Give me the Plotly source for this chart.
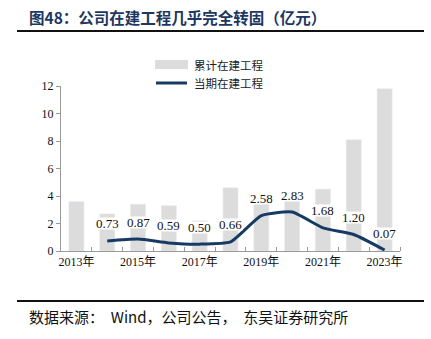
import plotly.graph_objects as go

# 累计在建工程 (bars) and 当期在建工程 (line), unit: 亿元
years = [2013, 2014, 2015, 2016, 2017, 2018, 2019, 2020, 2021, 2022, 2023]
cumulative = [3.6, 2.7, 3.4, 3.3, 2.2, 4.6, 4.0, 4.2, 4.5, 8.1, 11.8]
line_years = [2014, 2015, 2016, 2017, 2018, 2019, 2020, 2021, 2022, 2023]
current = [0.73, 0.87, 0.59, 0.50, 0.66, 2.58, 2.83, 1.68, 1.20, 0.07]
tick_years = [2013, 2015, 2017, 2019, 2021, 2023]
tick_text = [f"{y}年" for y in tick_years]
y_ticks = [0, 2, 4, 6, 8, 10, 12]

BAR = "#dcdcdc"
NAVY = "#173a63"
SERIF = "Liberation Serif, Noto Sans CJK SC"
CJK = "Noto Sans CJK SC, Liberation Serif"

fig = go.Figure()
fig.add_trace(go.Bar(x=years, y=cumulative, marker_color=BAR, width=0.49,
                     name="累计在建工程", showlegend=False))
fig.add_trace(go.Scatter(x=line_years, y=current, mode="lines",
                         line=dict(color=NAVY, width=3, shape="spline", smoothing=0.5),
                         name="当期在建工程", showlegend=False))

# value labels above the line points, on a tight white box
for x, v in zip(line_years, current):
    fig.add_annotation(x=x, y=v, text=f"{v:.2f}", showarrow=False, yshift=17,
                       font=dict(family=SERIF, size=13, color="#111"),
                       bgcolor="white", borderpad=0, height=11)

# legend drawn at the top
fig.add_shape(type="rect", xref="paper", yref="paper", x0=(155 - 61) / 339, x1=(188 - 61) / 339,
              y0=(251 - 69) / 165, y1=(251 - 60) / 165, fillcolor=BAR, line_width=0)
fig.add_shape(type="line", xref="paper", yref="paper", x0=(156 - 61) / 339, x1=(187 - 61) / 339,
              y0=(251 - 83) / 165, y1=(251 - 83) / 165, line=dict(color=NAVY, width=3))
fig.add_annotation(xref="paper", yref="paper", x=(192 - 61) / 339, y=(251 - 65) / 165,
                   text="累计在建工程", showarrow=False, xanchor="left", yanchor="middle",
                   font=dict(family=CJK, size=11.5, color="#222"))
fig.add_annotation(xref="paper", yref="paper", x=(192 - 61) / 339, y=(251 - 83) / 165,
                   text="当期在建工程", showarrow=False, xanchor="left", yanchor="middle",
                   font=dict(family=CJK, size=11.5, color="#222"))

# title, rules and source note
fig.add_annotation(xref="paper", yref="paper", x=(27 - 61) / 339, y=(251 - 17) / 165,
                   text="<b>图48：公司在建工程几乎完全转固（亿元）</b>", showarrow=False,
                   xanchor="left", yanchor="middle",
                   font=dict(family=CJK, size=15.5, color="#1c3761"))
fig.add_shape(type="line", xref="paper", yref="paper", x0=(17 - 61) / 339, x1=(424 - 61) / 339,
              y0=(251 - 31) / 165, y1=(251 - 31) / 165, line=dict(color="#111", width=2))
fig.add_shape(type="line", xref="paper", yref="paper", x0=(17 - 61) / 339, x1=(424 - 61) / 339,
              y0=(251 - 301) / 165, y1=(251 - 301) / 165, line=dict(color="#111", width=2))
fig.add_annotation(xref="paper", yref="paper", x=(27 - 61) / 339, y=(251 - 316) / 165,
                   text="数据来源：  Wind，公司公告，  东吴证券研究所", showarrow=False,
                   xanchor="left", yanchor="middle",
                   font=dict(family=CJK, size=15, color="#111"))

fig.update_layout(
    width=431, height=339,
    margin=dict(l=61, r=31, t=86, b=88),
    paper_bgcolor="white", plot_bgcolor="white",
    showlegend=False,
    xaxis=dict(range=[2012.5, 2023.5], tickvals=tick_years, ticktext=tick_text,
               ticks="", showgrid=False, zeroline=False,
               showline=True, linecolor="#999", linewidth=1,
               tickfont=dict(family=SERIF, size=12, color="#111"),
               minor=dict(tickvals=[y + 0.5 for y in years], ticks="inside",
                          ticklen=4, tickcolor="#999", showgrid=False)),
    yaxis=dict(range=[0, 12], tickvals=y_ticks, ticks="outside", ticklen=4,
               tickcolor="#999", showgrid=False, zeroline=False,
               showline=True, linecolor="#999", linewidth=1,
               tickfont=dict(family=SERIF, size=12, color="#111")),
)

fig.write_html("out.html")
